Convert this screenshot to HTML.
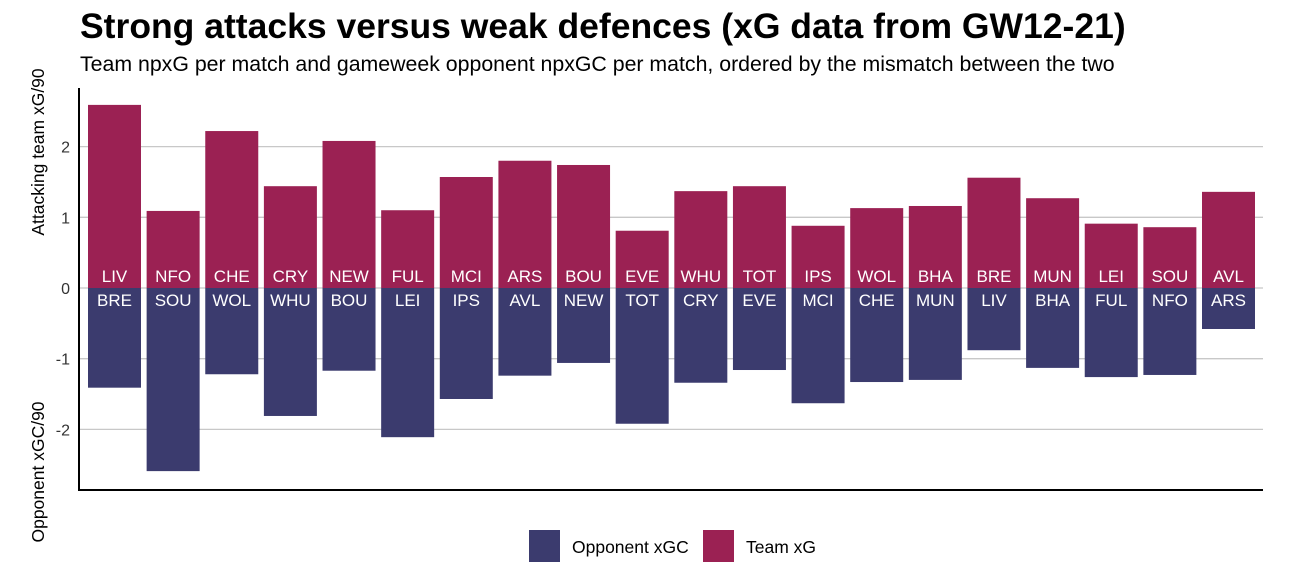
<!DOCTYPE html>
<html><head><meta charset="utf-8"><style>
body{margin:0;background:#fff;font-family:"Liberation Sans",Arial,sans-serif;}
</style></head><body>
<svg id="chart" width="1292" height="574" xmlns="http://www.w3.org/2000/svg">
<text x="80" y="38" font-size="35.5" font-weight="bold" fill="#000">Strong attacks versus weak defences (xG data from GW12-21)</text>
<text x="80" y="71" font-size="21.3" fill="#000">Team npxG per match and gameweek opponent npxGC per match, ordered by the mismatch between the two</text>
<g id="grid"></g>
<g id="bars"></g>
<g id="axes"></g>
<text transform="translate(44,152) rotate(-90)" text-anchor="middle" font-size="17.5">Attacking team xG/90</text>
<text transform="translate(44,472) rotate(-90)" text-anchor="middle" font-size="17.5">Opponent xGC/90</text>
<g>
<rect x="529" y="530" width="31" height="32" fill="#3b3b6e"/>
<text x="572" y="553" font-size="17.5">Opponent xGC</text>
<rect x="703" y="530" width="31" height="32" fill="#9b2153"/>
<text x="746" y="553" font-size="17.5">Team xG</text>
</g>
</svg>
<script>
const teams=["LIV","NFO","CHE","CRY","NEW","FUL","MCI","ARS","BOU","EVE","WHU","TOT","IPS","WOL","BHA","BRE","MUN","LEI","SOU","AVL"];
const teamXG=[2.59,1.09,2.22,1.44,2.08,1.10,1.57,1.80,1.74,0.81,1.37,1.44,0.88,1.13,1.16,1.56,1.27,0.91,0.86,1.36];
const opponents=["BRE","SOU","WOL","WHU","BOU","LEI","IPS","AVL","NEW","TOT","CRY","EVE","MCI","CHE","MUN","LIV","BHA","FUL","NFO","ARS"];
const oppXGC=[-1.41,-2.59,-1.22,-1.81,-1.17,-2.11,-1.57,-1.24,-1.06,-1.92,-1.34,-1.16,-1.63,-1.33,-1.30,-0.88,-1.13,-1.26,-1.23,-0.58];
const yTicks=[2,1,0,-1,-2];
const NS="http://www.w3.org/2000/svg";
const x0=80,x1=1263,y0=288,ppu=70.7;
const yScale=v=>y0-v*ppu;
const step=(1202-88)/(teams.length-1);
const bw=53;
const xScale=i=>88+i*step;
function mk(tag,attrs,parent){const e=document.createElementNS(NS,tag);for(const k in attrs)e.setAttribute(k,attrs[k]);parent.appendChild(e);return e;}
const grid=document.getElementById('grid'),bars=document.getElementById('bars'),axes=document.getElementById('axes');
yTicks.forEach(t=>{
  const l=mk('line',{x1:x0,x2:x1,y1:yScale(t),y2:yScale(t),stroke:'#c8c8c8','stroke-width':1.3},grid);
  
  
  const tx=mk('text',{x:70,y:yScale(t)+6,'text-anchor':'end','font-size':16,fill:'#333'},axes);
  tx.textContent=t;
  
  
});
teams.forEach((tm,i)=>{
  const x=xScale(i);
  const r1=mk('rect',{x:x,y:yScale(teamXG[i]),width:bw,height:yScale(0)-yScale(teamXG[i]),fill:'#9b2153'},bars);
  
  
  const r2=mk('rect',{x:x,y:yScale(0),width:bw,height:yScale(oppXGC[i])-yScale(0),fill:'#3b3b6e'},bars);
  
  
  const t1=mk('text',{x:x+bw/2,y:282,'text-anchor':'middle','font-size':17,fill:'#fff'},bars);
  t1.textContent=tm;
  
  
  const t2=mk('text',{x:x+bw/2,y:306,'text-anchor':'middle','font-size':17,fill:'#fff'},bars);
  t2.textContent=opponents[i];
  
  
});
const ay=mk('line',{x1:x0-1,x2:x0-1,y1:88,y2:491,stroke:'#000','stroke-width':2},axes);


const ax=mk('line',{x1:x0-1,x2:x1,y1:490,y2:490,stroke:'#000','stroke-width':2},axes);


</script>
</body></html>
